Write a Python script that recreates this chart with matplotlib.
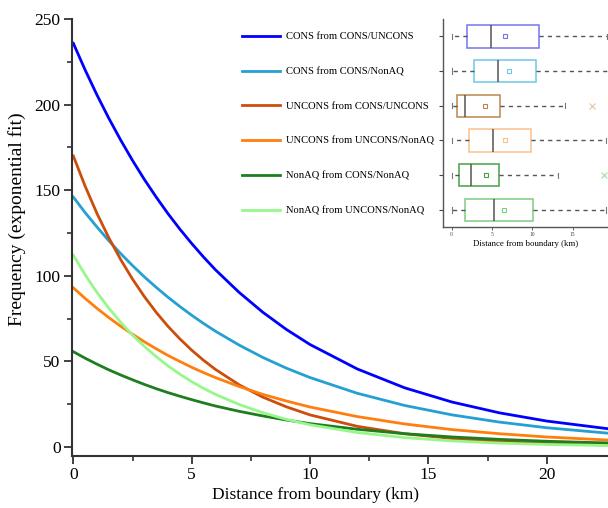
import matplotlib
matplotlib.use("Agg")
import matplotlib.pyplot as plt

plt.rcParams['font.family'] = ['Liberation Serif', 'DejaVu Serif']

dist = [0, 0.5, 1, 1.5, 2, 2.5, 3, 3.5, 4, 4.5, 5, 5.5, 6, 7, 8, 9, 10, 12, 14, 16, 18, 20, 22.6]

cons_cu = [235.8, 220.2, 205.6, 192.0, 179.3, 167.4, 156.3, 146.0, 136.3, 127.3, 118.9, 111.0,
           103.6, 90.4, 78.8, 68.7, 59.9, 45.6, 34.6, 26.3, 20.0, 15.2, 10.7]
cons_cn = [146.0, 136.9, 128.5, 120.5, 113.0, 106.0, 99.4, 93.3, 87.5, 82.1, 77.0, 72.2,
           67.7, 59.6, 52.4, 46.1, 40.6, 31.4, 24.3, 18.8, 14.6, 11.3, 8.1]
uncons_cu = [170.0, 152.3, 136.4, 122.2, 109.5, 98.1, 87.9, 78.7, 70.5, 63.2, 56.6, 50.7,
             45.4, 36.4, 29.2, 23.5, 18.8, 12.1, 7.8, 5.0, 3.2, 2.1, 1.2]
uncons_un = [93.0, 86.8, 81.0, 75.6, 70.6, 65.9, 61.5, 57.4, 53.5, 50.0, 46.6, 43.5,
             40.6, 35.4, 30.8, 26.9, 23.4, 17.8, 13.5, 10.2, 7.8, 5.9, 4.1]
nonaq_cn = [55.7, 51.9, 48.4, 45.1, 42.1, 39.3, 36.6, 34.1, 31.8, 29.7, 27.7, 25.8,
            24.0, 20.9, 18.2, 15.8, 13.7, 10.4, 7.8, 5.9, 4.5, 3.4, 2.4]
nonaq_un = [112.0, 100.6, 90.3, 81.1, 72.9, 65.4, 58.8, 52.8, 47.4, 42.6, 38.2, 34.3,
            30.8, 24.9, 20.1, 16.2, 13.0, 8.5, 5.5, 3.6, 2.3, 1.5, 0.9]

labels = ["CONS from CONS/UNCONS", "CONS from CONS/NonAQ",
          "UNCONS from CONS/UNCONS", "UNCONS from UNCONS/NonAQ",
          "NonAQ from CONS/NonAQ", "NonAQ from UNCONS/NonAQ"]
series = [cons_cu, cons_cn, uncons_cu, uncons_un, nonaq_cn, nonaq_un]
colors = ["#0000ff", "#24a0d2", "#cc4e0c", "#ff7f0e", "#1e7d1e", "#98f78a"]
box_colors = ["#7474f2", "#6cc8e6", "#b98650", "#fbc08c", "#44a044", "#80cc80"]
flier_colors = ["#b0b0f8", "#a8dcf0", "#e8c4a4", "#fcd8b8", "#a8d8a8", "#b0e0b0"]

# boxplot summaries (km)
q1 = [1.86, 2.8, 0.62, 2.1, 0.86, 1.65]
med = [4.87, 5.7, 1.69, 5.16, 2.35, 5.28]
q3 = [10.86, 10.5, 6.03, 9.83, 5.9, 10.1]
means = [6.65, 7.14, 4.13, 6.65, 4.25, 6.44]
whis_lo = [0, 0, 0, 0, 0, 0]
whis_hi = [19.2, 19.6, 14.1, 19.1, 13.2, 19.1]
fliers = [[], [], [17.4], [], [18.9], []]

fig = plt.figure(figsize=(6.08, 5.08), dpi=100)
ax = fig.add_axes([0.1179, 0.1024, 0.8821, 0.8602])

for ys, lab, c in zip(series, labels, colors):
    ax.plot(dist, ys, color=c, lw=2.0, label=lab)

ax.set_xlim(-0.07, 22.59)
ax.set_ylim(-5.2, 250)
ax.set_xticks([0, 5, 10, 15, 20])
ax.set_xticks([2.5, 7.5, 12.5, 17.5], minor=True)
ax.set_yticks([0, 50, 100, 150, 200, 250])
ax.set_yticks([25, 75, 125, 175, 225], minor=True)
ax.tick_params(which='major', length=6, width=1.3, labelsize=12.5, pad=2, color="#333333")
ax.tick_params(which='minor', length=3.5, width=1.2, color="#333333")
for s in ["top", "right"]:
    ax.spines[s].set_visible(False)
for s in ["left", "bottom"]:
    ax.spines[s].set_linewidth(1.5)
    ax.spines[s].set_color("#333333")
ax.set_xlabel("Distance from boundary (km)", fontsize=12.5)
ax.set_ylabel("Frequency (exponential fit)", fontsize=14)
ax.xaxis.set_label_coords(0.4555, -0.071)
ax.yaxis.set_label_coords(-0.085, 0.542)

ax.legend(loc="upper left", bbox_to_anchor=(241.7 / 608, 1 - 32 / 508),
          bbox_transform=fig.transFigure, frameon=False, fontsize=7.6,
          handlelength=3.6, handletextpad=0.6, labelspacing=2.41,
          borderpad=0, borderaxespad=0)

# inset boxplot
ins = fig.add_axes([0.7291, 0.5526, 0.2709, 0.4100])
stats = []
for i in range(len(labels)):
    stats.append(dict(med=med[i], q1=q1[i], q3=q3[i], mean=means[i],
                      whislo=whis_lo[i], whishi=whis_hi[i], fliers=fliers[i]))
positions = list(range(1, len(labels) + 1))
bp = ins.bxp(stats, positions=positions, vert=False, widths=0.65, showmeans=True,
             patch_artist=True, capwidths=0.15)
for i, c in enumerate(box_colors):
    bp['boxes'][i].set_facecolor("white")
    bp['boxes'][i].set_edgecolor(c)
    bp['boxes'][i].set_linewidth(1.1)
    bp['medians'][i].set_color("#555555")
    bp['medians'][i].set_linewidth(1.1)
    bp['means'][i].set_marker("s")
    bp['means'][i].set_markerfacecolor("none")
    bp['means'][i].set_markeredgecolor(c)
    bp['means'][i].set_markersize(3)
    bp['means'][i].set_markeredgewidth(0.8)
    bp['fliers'][i].set_marker("x")
    bp['fliers'][i].set_markeredgecolor(flier_colors[i])
    bp['fliers'][i].set_markersize(4)
    bp['fliers'][i].set_markeredgewidth(0.8)
for w in bp['whiskers']:
    w.set_linestyle((0, (3, 3)))
    w.set_color("#555555")
    w.set_linewidth(1.0)
for cp in bp['caps']:
    cp.set_color("#777777")
    cp.set_linewidth(0.8)

ins.set_xlim(-1.04, 19.37)
ins.set_ylim(6.5, 0.5)
ins.set_xticks([0, 5, 10, 15])
ins.set_yticks(positions)
ins.set_yticklabels([])
ins.tick_params(axis='x', labelsize=4, length=2, width=0.6, pad=1.5, colors="#444444")
ins.tick_params(axis='y', length=3, width=0.8, color="#444444")
for s in ["top", "right"]:
    ins.spines[s].set_visible(False)
for s in ["left", "bottom"]:
    ins.spines[s].set_linewidth(1.0)
    ins.spines[s].set_color("#555555")
ins.set_xlabel("Distance from boundary (km)", fontsize=6.3, labelpad=2)

fig.savefig("out.png", dpi=100)
